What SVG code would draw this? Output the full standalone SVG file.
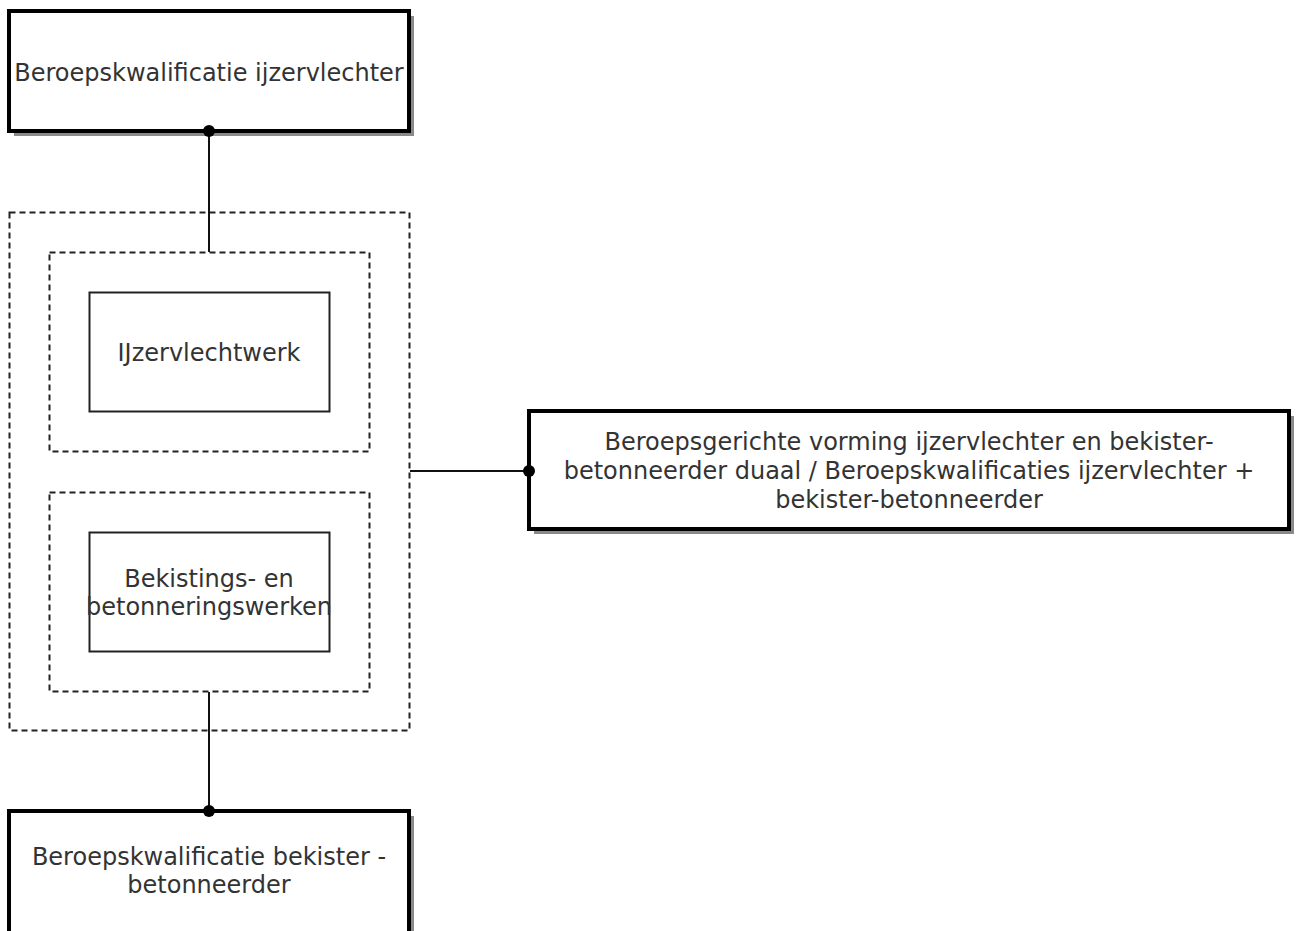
<svg xmlns="http://www.w3.org/2000/svg" width="1299" height="931" viewBox="0 0 1299 931">
<style>
.bg{fill:#fff}
.shadow{fill:#8a8a8a}
.thick{fill:#fff;stroke:#000;stroke-width:4}
.thin{fill:#fff;stroke:#222;stroke-width:2}
.dash{fill:none;stroke:#222;stroke-width:2;stroke-dasharray:6 4}
.lbl{font-family:"DejaVu Sans",Verdana,sans-serif;font-size:24px;fill:#333;text-anchor:middle}
.conn{stroke:#111;stroke-width:2;fill:none}
.dot{fill:#000}
</style>
<rect class="bg" x="0" y="0" width="1299" height="931"/>
<g id="group-outer">
<rect class="dash" x="9.5" y="212.5" width="400" height="518"/>
</g>
<g id="group-ijzer">
<rect class="dash" x="49.5" y="252.5" width="320" height="199"/>
</g>
<g id="group-bekisting">
<rect class="dash" x="49.5" y="492.5" width="320" height="199"/>
</g>
<g id="node-top">
<rect class="shadow" x="14" y="16" width="400" height="120"/>
<rect class="thick" x="9" y="11" width="400" height="120"/>
<text class="lbl" x="209" y="80.5">Beroepskwalificatie ijzervlechter</text>
</g>
<g id="node-ijzervlechtwerk">
<rect class="thin" x="89.5" y="292.5" width="240" height="119"/>
<text class="lbl" x="209" y="360.5">IJzervlechtwerk</text>
</g>
<g id="node-bekistingswerken">
<rect class="thin" x="89.5" y="532.5" width="240" height="119"/>
<text class="lbl" x="209" y="586.5">Bekistings- en</text>
<text class="lbl" x="209" y="614.5">betonneringswerken</text>
</g>
<g id="node-right">
<rect class="shadow" x="534" y="416" width="760" height="118"/>
<rect class="thick" x="529" y="411" width="760" height="118"/>
<text class="lbl" x="909" y="449.5">Beroepsgerichte vorming ijzervlechter en bekister-</text>
<text class="lbl" x="909" y="478.5">betonneerder duaal / Beroepskwalificaties ijzervlechter +</text>
<text class="lbl" x="909" y="507.5">bekister-betonneerder</text>
</g>
<g id="node-bottom">
<rect class="shadow" x="14" y="816" width="400" height="130"/>
<rect class="thick" x="9" y="811" width="400" height="130"/>
<text class="lbl" x="209" y="864.5">Beroepskwalificatie bekister -</text>
<text class="lbl" x="209" y="892.5">betonneerder</text>
</g>
<g id="connectors">
<line class="conn" x1="209" y1="131" x2="209" y2="252"/>
<circle class="dot" cx="209" cy="131" r="6"/>
<line class="conn" x1="209" y1="692" x2="209" y2="811"/>
<circle class="dot" cx="209" cy="811" r="6"/>
<line class="conn" x1="410" y1="471" x2="529" y2="471"/>
<circle class="dot" cx="529" cy="471" r="6"/>
</g>
</svg>
